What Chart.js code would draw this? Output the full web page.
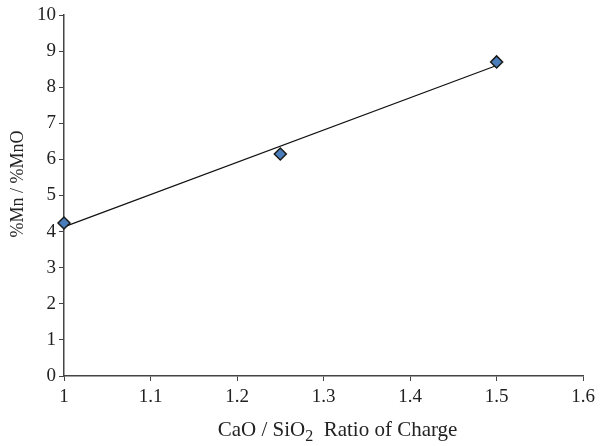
<!DOCTYPE html>
<html>
<head>
<meta charset="utf-8">
<title>%Mn / %MnO vs CaO / SiO2</title>
<script src="https://cdn.jsdelivr.net/npm/chart.js@4"></script>
<style>
  html, body { margin: 0; padding: 0; background: #fff; }
  #wrap { width: 600px; height: 446px; position: relative; }
</style>
</head>
<body>
<div id="wrap"><canvas id="chart"></canvas></div>
<script>
// Data
const ratioX = [1, 1.25, 1.5];
const mnRatioY = [4.24, 6.15, 8.7];
// Linear trend line end points
const trendX = [1, 1.5];
const trendY = [4.13, 8.6];

const xTicks = ['1', '1.1', '1.2', '1.3', '1.4', '1.5', '1.6'];

const FONT = '"Liberation Serif", "Times New Roman", serif';
const ink = '#222';

const axisGrid = {
  display: true,
  drawOnChartArea: false,
  drawTicks: true,
  tickLength: 5,
  color: '#444',
  lineWidth: 1
};

// Axis titles drawn by hand so SiO2 gets a proper subscript
const axisTitles = {
  id: 'axisTitles',
  afterDraw(chart) {
    const { ctx, chartArea } = chart;
    ctx.save();
    ctx.fillStyle = ink;
    ctx.textBaseline = 'alphabetic';

    // x title (sits a little right of the plot centre, as in the original)
    const parts = [
      { t: 'CaO / SiO', size: 21, dy: 0 },
      { t: '2', size: 16, dy: 5 },
      { t: '  Ratio of Charge', size: 21, dy: 0 }
    ];
    let total = 0;
    parts.forEach(p => {
      ctx.font = p.size + 'px ' + FONT;
      p.w = ctx.measureText(p.t).width;
      total += p.w;
    });
    let x = (chartArea.left + chartArea.right) / 2 + 14 - total / 2;
    const base = 436;
    ctx.textAlign = 'left';
    parts.forEach(p => {
      ctx.font = p.size + 'px ' + FONT;
      ctx.fillText(p.t, x, base + p.dy);
      x += p.w;
    });

    // y title
    ctx.translate(23, 184);
    ctx.rotate(-Math.PI / 2);
    ctx.font = '18px ' + FONT;
    ctx.textAlign = 'center';
    ctx.fillText('%Mn / %MnO', 0, 0);
    ctx.restore();
  }
};

new Chart(document.getElementById('chart'), {
  type: 'scatter',
  data: {
    datasets: [
      {
        label: 'Trend',
        data: trendX.map((x, i) => ({ x, y: trendY[i] })),
        showLine: true,
        borderColor: '#111',
        borderWidth: 1.2,
        pointRadius: 0,
        clip: false,
        order: 2
      },
      {
        label: '%Mn / %MnO',
        data: ratioX.map((x, i) => ({ x, y: mnRatioY[i] })),
        pointStyle: 'rectRot',
        pointRadius: 6,
        pointBackgroundColor: '#4a7ebb',
        pointBorderColor: '#1a1a1a',
        pointBorderWidth: 1.5,
        clip: false,
        order: 1
      }
    ]
  },
  plugins: [axisTitles],
  options: {
    responsive: true,
    maintainAspectRatio: false,
    animation: false,
    layout: { padding: { top: 15, right: 16, left: 0, bottom: 0 } },
    plugins: {
      legend: { display: false },
      tooltip: { enabled: false }
    },
    scales: {
      x: {
        type: 'linear',
        min: 1,
        max: 1.6,
        afterFit: s => { s.height = 70; },
        afterBuildTicks: s => { s.ticks = xTicks.map(t => ({ value: +t })); },
        ticks: {
          color: ink,
          font: { family: FONT, size: 19 },
          padding: 5,
          maxRotation: 0,
          callback: v => xTicks.find(t => +t === v) || ''
        },
        grid: axisGrid,
        border: { display: true, color: '#444', width: 1.5 },
        title: { display: false }
      },
      y: {
        min: 0,
        max: 10,
        afterFit: s => { s.width = 64; },
        ticks: {
          stepSize: 1,
          color: ink,
          font: { family: FONT, size: 19 },
          padding: 3
        },
        grid: axisGrid,
        border: { display: true, color: '#444', width: 1.5 },
        title: { display: false }
      }
    }
  }
});
</script>
</body>
</html>
